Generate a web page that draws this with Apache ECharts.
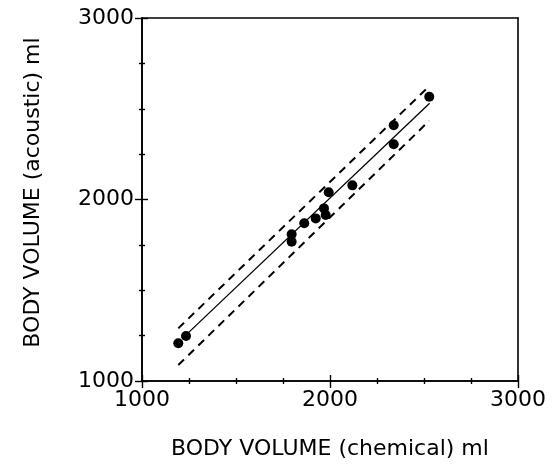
<!DOCTYPE html>
<html>
<head>
<meta charset="utf-8">
<script src="https://cdn.jsdelivr.net/npm/echarts@6/dist/echarts.min.js"></script>
<style>
html, body { margin: 0; padding: 0; background: #fff; }
#main { width: 557px; height: 466px; }
</style>
</head>
<body>
<div id="main"></div>
<script>
// body volume: chemical (x) vs acoustic (y), ml
var chemVol = [1193, 1234, 1796, 1796, 1863, 1924, 1968, 1977, 1993, 2119, 2339, 2339, 2528];
var acouVol = [1208, 1248, 1808, 1767, 1869, 1896, 1951, 1915, 2040, 2078, 2409, 2304, 2566];

// regression line and limits (end points)
var fitX = [1215, 2530];
var fitY = [1235, 2530];
var upperX = [1193, 2528];
var upperY = [1290, 2625];
var lowerX = [1193, 2528];
var lowerY = [1088, 2434];

var axisMin = 1000;
var axisMax = 3000;

function pairs(xs, ys) {
    var out = [];
    for (var i = 0; i < xs.length; i++) out.push([xs[i], ys[i]]);
    return out;
}

var font = 'DejaVu Sans';
var box = { left: 142, top: 18, right: 39, bottom: 85 };
var lineSt = { color: '#000', width: 1.6 };

// inside=false: labelled axis with outward ticks; inside=true: copy on grid 1 with inward ticks
function makeAxis(inside, pos, extra) {
    var ax = {
        type: 'value',
        gridIndex: inside ? 1 : 0,
        position: pos,
        z: 3,
        min: axisMin,
        max: axisMax,
        interval: 1000,
        splitLine: { show: false },
        axisLine: { show: true, onZero: false, lineStyle: lineSt },
        axisTick: { show: true, inside: inside, length: inside ? 6 : 7, lineStyle: { color: '#000', width: 1.4 } },
        minorTick: { show: true, splitNumber: 4, length: 3, lineStyle: { color: '#000', width: 1.4 } },
        axisLabel: {
            show: true, color: inside ? 'rgba(0,0,0,0)' : '#000', fontFamily: font, fontSize: 22,
            formatter: function (v) { return String(v); }
        }
    };
    for (var k in extra) ax[k] = extra[k];
    return ax;
}

// top / right frame lines
function frameAxis(pos) {
    return {
        type: 'value',
        gridIndex: 1,
        position: pos,
        z: 3,
        min: axisMin,
        max: axisMax,
        interval: 1000,
        splitLine: { show: false },
        axisLine: { show: true, onZero: false, lineStyle: lineSt },
        axisTick: { show: false },
        axisLabel: { show: false }
    };
}

var dom = document.getElementById('main');
var myChart = echarts.init(dom);

var option = {
    animation: false,
    grid: [
        { left: box.left, top: box.top, right: box.right, bottom: box.bottom },
        { left: box.left, top: box.top, right: box.right, bottom: box.bottom }
    ],
    xAxis: [
        makeAxis(false, 'bottom', {
            name: 'BODY VOLUME (chemical) ml',
            nameLocation: 'middle',
            nameGap: 57,
            nameTextStyle: { color: '#000', fontFamily: font, fontSize: 22 }
        }),
        makeAxis(true, 'bottom', {}),
        frameAxis('top')
    ],
    yAxis: [
        makeAxis(false, 'left', {
            name: 'BODY VOLUME (acoustic) ml',
            nameLocation: 'middle',
            nameGap: 98,
            nameTextStyle: { color: '#000', fontFamily: font, fontSize: 22, padding: [0, 0, 0, 14] }
        }),
        makeAxis(true, 'left', {}),
        frameAxis('right')
    ],
    series: [
        {
            // drawn on grid 1 (same box, same scale)
            name: 'fit',
            type: 'line',
            xAxisIndex: 1,
            yAxisIndex: 1,
            data: pairs(fitX, fitY),
            symbol: 'none',
            lineStyle: { color: '#000', width: 1.3 }
        },
        {
            name: 'upper',
            type: 'line',
            xAxisIndex: 2,
            yAxisIndex: 2,
            data: pairs(upperX, upperY),
            symbol: 'none',
            lineStyle: { color: '#000', width: 2, type: [8, 6] }
        },
        {
            name: 'lower',
            type: 'line',
            data: pairs(lowerX, lowerY),
            symbol: 'none',
            lineStyle: { color: '#000', width: 2, type: [8, 6] }
        },
        {
            name: 'subjects',
            type: 'scatter',
            data: pairs(chemVol, acouVol),
            symbol: 'circle',
            symbolSize: 10,
            itemStyle: { color: '#000', opacity: 1 },
            z: 5
        }
    ]
};

myChart.setOption(option, true);
</script>
</body>
</html>
